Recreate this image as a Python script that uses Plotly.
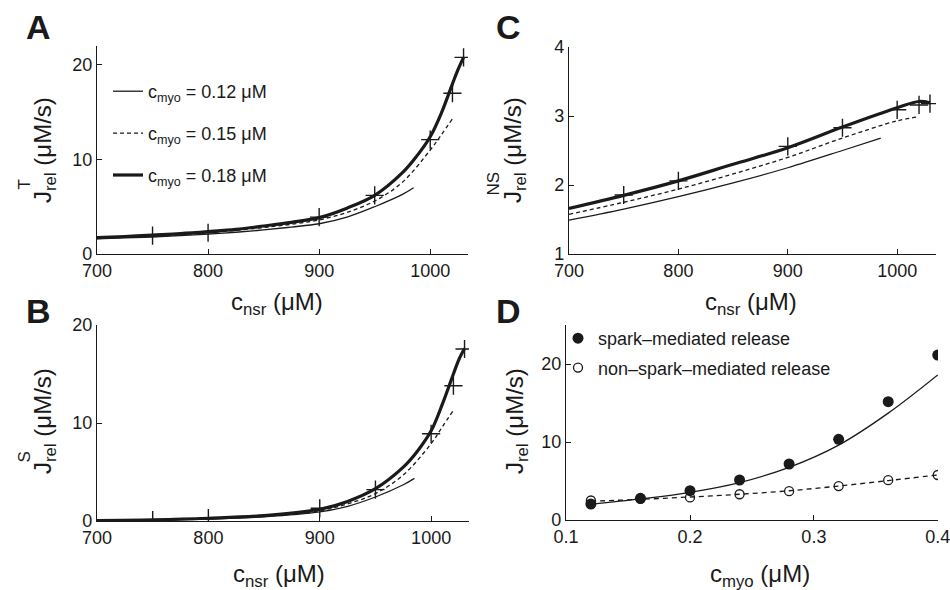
import plotly.graph_objects as go

# ---------------- data ----------------
# Panel A: total release J_rel^T vs c_nsr
a_x = [700, 725, 750, 775, 800, 825, 850, 875, 900, 925, 950, 975, 987.5, 1000, 1010, 1020, 1025, 1030]
a_y18 = [1.73, 1.85, 2.0, 2.15, 2.36, 2.6, 2.96, 3.35, 3.85, 4.85, 6.2, 8.6, 10.3, 12.4, 14.9, 18.0, 19.5, 20.8]
a_x15 = [700, 725, 750, 775, 800, 825, 850, 875, 900, 925, 950, 975, 1000, 1010, 1020]
a_y15 = [1.65, 1.77, 1.9, 2.05, 2.25, 2.5, 2.8, 3.15, 3.6, 4.4, 5.6, 7.6, 11.0, 12.6, 14.3]
a_x12 = [700, 725, 750, 775, 800, 825, 850, 875, 900, 925, 950, 975, 985]
a_y12 = [1.6, 1.7, 1.8, 1.95, 2.1, 2.3, 2.55, 2.85, 3.2, 3.9, 5.0, 6.3, 7.0]
a_sim_x = [750, 800, 900, 950, 1000, 1020, 1030]
a_sim_y = [1.95, 2.25, 3.9, 6.2, 12.1, 17.0, 20.8]

# Panel B: spark-mediated release J_rel^S vs c_nsr
b_x = [700, 750, 800, 850, 900, 925, 950, 975, 987.5, 1000, 1010, 1020, 1025, 1030]
b_y18 = [0.05, 0.12, 0.28, 0.55, 1.2, 2.0, 3.3, 5.5, 7.1, 9.2, 11.9, 15.0, 16.5, 17.6]
b_x15 = [700, 750, 800, 850, 900, 925, 950, 975, 1000, 1010, 1020]
b_y15 = [0.04, 0.1, 0.24, 0.48, 1.05, 1.75, 2.8, 4.7, 7.9, 9.6, 11.3]
b_x12 = [700, 750, 800, 850, 900, 925, 950, 975, 985]
b_y12 = [0.03, 0.08, 0.2, 0.42, 0.92, 1.5, 2.45, 3.7, 4.35]
b_sim_x = [750, 800, 900, 950, 1000, 1020, 1030]
b_sim_y = [0.1, 0.3, 1.3, 3.2, 8.9, 13.8, 17.55]

# Panel C: non-spark release J_rel^NS vs c_nsr
c_x = [700, 750, 800, 850, 900, 950, 1000, 1020, 1030]
c_y18 = [1.66, 1.85, 2.06, 2.3, 2.54, 2.84, 3.12, 3.21, 3.19]
c_x15 = [700, 750, 800, 850, 900, 950, 1000, 1020]
c_y15 = [1.575, 1.75, 1.94, 2.16, 2.4, 2.68, 2.93, 2.99]
c_x12 = [700, 750, 800, 850, 900, 950, 985]
c_y12 = [1.49, 1.65, 1.83, 2.03, 2.25, 2.5, 2.68]
c_sim_x = [750, 800, 900, 950, 1000, 1020, 1030]
c_sim_y = [1.855, 2.06, 2.56, 2.83, 3.09, 3.16, 3.18]

# Panel D: release vs c_myo
d_x = [0.12, 0.16, 0.20, 0.24, 0.28, 0.32, 0.36, 0.40]
d_spark = [2.05, 2.78, 3.76, 5.13, 7.18, 10.34, 15.17, 21.15]
d_spark_fit = [2.0, 2.7, 3.55, 4.8, 6.75, 9.6, 13.7, 18.6]
d_nonspark = [2.5, 2.7, 2.9, 3.3, 3.7, 4.35, 5.1, 5.77]
d_nonspark_fit = [2.4, 2.65, 2.95, 3.3, 3.75, 4.35, 5.05, 5.77]

legend_names = ["c<sub>myo</sub> = 0.12 μM", "c<sub>myo</sub> = 0.15 μM", "c<sub>myo</sub> = 0.18 μM"]

# ---------------- figure ----------------
FONT = "Liberation Sans, Arial, Helvetica, sans-serif"
INK = "#1a1a1a"
fig = go.Figure()

thin = dict(color=INK, width=1.3)
dashed = dict(color=INK, width=1.3, dash="4px,3px")
thick = dict(color=INK, width=3.2)
cross = dict(symbol="cross-thin-open", size=13, line=dict(color=INK, width=1.4), color=INK)


def add_panel(xa, ya, x12, y12, x15, y15, x18, y18, sx, sy, show):
    fig.add_trace(go.Scatter(x=x12, y=y12, mode="lines", line=thin, line_shape="spline",
                             xaxis=xa, yaxis=ya, name=legend_names[0], legendgroup="g1",
                             showlegend=show))
    fig.add_trace(go.Scatter(x=x15, y=y15, mode="lines", line=dashed, line_shape="spline",
                             xaxis=xa, yaxis=ya, name=legend_names[1], legendgroup="g2",
                             showlegend=show))
    fig.add_trace(go.Scatter(x=x18, y=y18, mode="lines", line=thick, line_shape="spline",
                             xaxis=xa, yaxis=ya, name=legend_names[2], legendgroup="g3",
                             showlegend=show))
    fig.add_trace(go.Scatter(x=sx, y=sy, mode="markers", marker=cross,
                             xaxis=xa, yaxis=ya, showlegend=False))


add_panel("x", "y", a_x12, a_y12, a_x15, a_y15, a_x, a_y18, a_sim_x, a_sim_y, True)
add_panel("x3", "y3", b_x12, b_y12, b_x15, b_y15, b_x, b_y18, b_sim_x, b_sim_y, False)
add_panel("x2", "y2", c_x12, c_y12, c_x15, c_y15, c_x, c_y18, c_sim_x, c_sim_y, False)

# Panel D
fig.add_trace(go.Scatter(x=d_x, y=d_spark_fit, mode="lines", line=dict(color=INK, width=1.3),
                         line_shape="spline", xaxis="x4", yaxis="y4", showlegend=False))
fig.add_trace(go.Scatter(x=d_x, y=d_nonspark_fit, mode="lines",
                         line=dict(color=INK, width=1.3, dash="5px,4px"),
                         line_shape="spline", xaxis="x4", yaxis="y4", showlegend=False))
fig.add_trace(go.Scatter(x=d_x, y=d_spark, mode="markers", name="spark–mediated release",
                         marker=dict(symbol="circle", size=11, color=INK),
                         xaxis="x4", yaxis="y4", legend="legend2", legendgroup="s1"))
fig.add_trace(go.Scatter(x=d_x, y=d_nonspark, mode="markers", name="non–spark–mediated release",
                         marker=dict(symbol="circle-open", size=9, color=INK, line=dict(width=1.3, color=INK)),
                         xaxis="x4", yaxis="y4", legend="legend2", legendgroup="s2"))

W, H = 950, 590


def px_x(v):
    return v / W


def px_y(v):
    return 1 - v / H


axis_common = dict(showline=True, linecolor=INK, linewidth=1.2, ticks="inside", ticklen=5,
                   tickwidth=1, tickcolor=INK, showgrid=False, zeroline=False, automargin=False,
                   ticklabeloverflow="allow",
                   tickfont=dict(family=FONT, size=18, color=INK), mirror=False)

xt = [700, 800, 900, 1000]
fig.update_layout(
    template="none",
    xaxis=dict(axis_common, domain=[px_x(97), px_x(468)], range=[700, 1034], tickvals=xt, anchor="y"),
    yaxis=dict(axis_common, domain=[px_y(254), px_y(46)], range=[0, 22], tickvals=[0, 10, 20], anchor="x"),
    xaxis2=dict(axis_common, domain=[px_x(569), px_x(936)], range=[700, 1035.5], tickvals=xt, anchor="y2"),
    yaxis2=dict(axis_common, domain=[px_y(254), px_y(47)], range=[1, 4], tickvals=[1, 2, 3, 4], anchor="x2"),
    xaxis3=dict(axis_common, domain=[px_x(97), px_x(469)], range=[700, 1034], tickvals=xt, anchor="y3"),
    yaxis3=dict(axis_common, domain=[px_y(521), px_y(325)], range=[0, 20], tickvals=[0, 10, 20], anchor="x3"),
    xaxis4=dict(axis_common, domain=[px_x(566), px_x(938)], range=[0.0999, 0.4002],
                tickvals=[0.1, 0.2, 0.3, 0.4], ticktext=["0.1", "0.2", "0.3", "0.4"], anchor="y4"),
    yaxis4=dict(axis_common, domain=[px_y(520), px_y(325)], range=[0, 25], tickvals=[0, 10, 20], anchor="x4"),
    width=W, height=H, autosize=False,
    margin=dict(l=0, r=0, t=0, b=0, pad=0, autoexpand=False),
    plot_bgcolor="white", paper_bgcolor="white",
    font=dict(family=FONT, color=INK),
    legend=dict(x=px_x(108), y=px_y(73), xanchor="left", yanchor="top", bgcolor="rgba(0,0,0,0)",
                font=dict(family=FONT, size=18, color=INK), tracegroupgap=15.5, traceorder="grouped",
                itemwidth=30, borderwidth=0),
    legend2=dict(x=px_x(558), y=px_y(320), xanchor="left", yanchor="top", bgcolor="rgba(0,0,0,0)",
                 font=dict(family=FONT, size=18, color=INK), tracegroupgap=3, traceorder="grouped",
                 itemwidth=30, borderwidth=0),
)

ann = []


def label(text, x, y, size=24, angle=0, bold=False):
    ann.append(dict(text=("<b>%s</b>" % text) if bold else text, x=px_x(x), y=px_y(y),
                    xref="paper", yref="paper", showarrow=False, xanchor="center", yanchor="middle",
                    textangle=angle, font=dict(family=FONT, size=size, color=INK)))


# panel letters
label("A", 38, 27, size=34, bold=True)
label("C", 508, 27, size=34, bold=True)
label("B", 38, 311, size=34, bold=True)
label("D", 508, 311, size=34, bold=True)

# x-axis titles
label("c<sub>nsr</sub> (μM)", 277, 303)
label("c<sub>nsr</sub> (μM)", 751, 303)
label("c<sub>nsr</sub> (μM)", 279, 575)
label("c<sub>myo</sub> (μM)", 760, 575)

# y-axis titles (superscripts stacked over the subscripts as separate labels)
label("J<sub>rel</sub> (μM/s)", 44, 150, angle=-90)
label("T", 23.5, 185, size=17, angle=-90)
label("J<sub>rel</sub> (μM/s)", 514, 150, angle=-90)
label("NS", 493.5, 184, size=17, angle=-90)
label("J<sub>rel</sub> (μM/s)", 44, 421, angle=-90)
label("S", 23.5, 457, size=17, angle=-90)
label("J<sub>rel</sub> (μM/s)", 516, 421, angle=-90)

fig.update_layout(annotations=ann)

fig.write_html("out.html")
